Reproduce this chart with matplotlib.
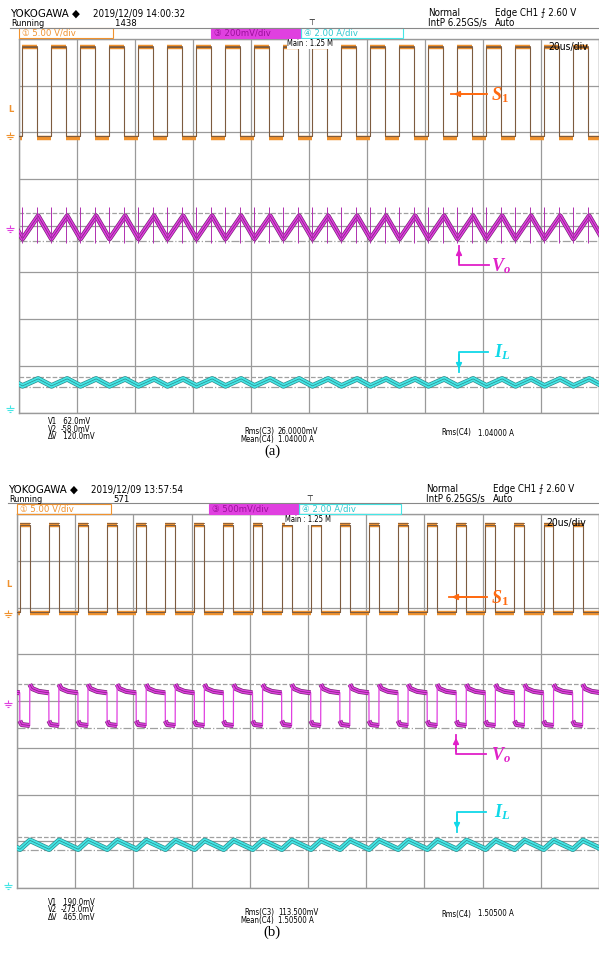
import numpy as np
import matplotlib.pyplot as plt
from matplotlib.patches import Rectangle, FancyArrowPatch
from matplotlib.path import Path

plt.rcParams['mathtext.fontset'] = 'custom'
plt.rcParams['mathtext.it'] = 'Liberation Serif:bold:italic'
plt.rcParams['mathtext.rm'] = 'Liberation Serif:bold'

W, H = 599, 959
SCOPE_FONT = ['Liberation Sans Narrow', 'DejaVu Sans']

# ---- scope settings / values ----
PERIOD_US = 10.0
N_CYCLES = 20
TIME_SPAN_US = 200
N_XDIV, N_YDIV = 10, 8

# panel (a)
a_header = dict(date='2019/12/09 14:00:32', count='1438', ch3='③ 200mV/div')
a_s1_edges = [0.93, 6.30]           # rise, fall within a period (us)
a_s1_levels = [3.82, 1.92]          # high, low (div)
a_vo_vertex_t = [1.20, 6.60]        # trough, peak (us)
a_vo_vertex_v = [-0.28, 0.21]       # trough, peak (div)
a_vo_spike = [-0.37, 0.41]          # spike extent at switching edges (div)
a_il_vertex_t = [1.20, 6.60]
a_il_vertex_v = [-3.43, -3.28]
a_vo_ground = -0.03
a_vo_scale_mv = 200
a_cursor_mv = [62.0, -58.0]
a_il_cursors = [-3.24, -3.45]
a_grounds = [1.92, -0.06, -3.93]    # CH1, CH3, CH4 ground markers
a_trig = 2.48
a_meas_v = ['62.0mV', '-58.0mV', '120.0mV']
a_meas_rms3 = '26.0000mV'
a_meas_mean4 = '1.04000 A'
a_meas_rms4 = '1.04000 A'

# panel (b)
b_header = dict(date='2019/12/09 13:57:54', count='571', ch3='③ 500mV/div')
b_s1_edges = [0.93, 4.36]
b_s1_levels = [3.77, 1.92]
b_vo_shape_t = [0.93, 0.97, 1.60, 4.36, 4.40, 5.20, 7.50, 10.90]
b_vo_shape_v = [0.18, -0.42, -0.50, -0.52, 0.36, 0.27, 0.21, 0.18]
b_il_vertex_t = [1.03, 4.47]
b_il_vertex_v = [-3.17, -2.98]
b_vo_ground = -0.02
b_vo_scale_mv = 500
b_cursor_mv = [190.0, -275.0]
b_il_cursors = [-2.90, -3.18]
b_grounds = [1.87, -0.07, -3.95]
b_trig = 2.49
b_meas_v = ['190.0mV', '-275.0mV', '465.0mV']
b_meas_rms3 = '113.500mV'
b_meas_mean4 = '1.50500 A'
b_meas_rms4 = '1.50500 A'

ORANGE = '#F0922E'
ORANGE_DK = '#7d5b3f'
MAGENTA = '#E040E0'
MAGENTA_DK = '#7a2478'
CYAN = '#45E6E6'
CYAN_DK = '#2a8a8a'
GRID = '#9a9a9a'

# earth symbol used as a marker (no installed font has U+23DA)
GROUND_MARK = Path([(0, 1.0), (0, 0.2), (-1, 0.2), (1, 0.2), (-0.65, -0.3), (0.65, -0.3), (-0.3, -0.8), (0.3, -0.8)],
                   [Path.MOVETO, Path.LINETO, Path.MOVETO, Path.LINETO, Path.MOVETO, Path.LINETO, Path.MOVETO,
                    Path.LINETO])


def fx(x):
    return x / W


def fy(y):
    return 1 - y / H


def tile(shape_t, shape_v):
    t = np.concatenate([np.asarray(shape_t) + k * PERIOD_US for k in range(-1, N_CYCLES + 1)])
    v = np.tile(shape_v, N_CYCLES + 2)
    return t, v


def square(edges, levels):
    rise, fall = edges
    hi, lo = levels
    return tile([0, rise, rise, fall, fall, PERIOD_US], [lo, lo, hi, hi, lo, lo])


def draw_square(ax, edges, levels):
    t, v = square(edges, levels)
    ax.plot(t, v, color=ORANGE_DK, lw=0.8, zorder=3)
    rise, fall = edges
    hi, lo = levels
    for k in range(-1, N_CYCLES + 1):
        base = k * PERIOD_US
        ax.plot([base + rise, base + fall], [hi, hi], color=ORANGE, lw=3.2, zorder=2, solid_capstyle='butt')
        ax.plot([base + rise, base + fall], [hi + 0.04, hi + 0.04], color=ORANGE_DK, lw=0.6, zorder=3)
        ax.plot([base + fall, base + PERIOD_US + rise], [lo - 0.03, lo - 0.03], color=ORANGE, lw=3.2, zorder=2,
                solid_capstyle='butt')
        ax.plot([base + fall, base + PERIOD_US + rise], [lo, lo], color=ORANGE_DK, lw=0.6, zorder=3)


def draw_band(ax, t, v, col, dark, width):
    ax.plot(t, v, color=dark, lw=width + 1.0, zorder=4)
    ax.plot(t, v, color=col, lw=width, zorder=5)
    ax.plot(t, v, color=dark, lw=0.5, zorder=6)


def scope_axes(rect):
    ax = plt.gcf().add_axes(rect)
    ax.set_xlim(0, TIME_SPAN_US)
    ax.set_ylim(-N_YDIV / 2, N_YDIV / 2)
    ax.set_xticks(np.linspace(0, TIME_SPAN_US, N_XDIV + 1))
    ax.set_yticks(np.arange(-N_YDIV // 2, N_YDIV // 2 + 1))
    ax.grid(True, color=GRID, lw=0.9)
    ax.tick_params(length=0, labelbottom=False, labelleft=False)
    for s in ax.spines.values():
        s.set_color(GRID)
        s.set_linewidth(1.0)
    ax.set_axisbelow(True)
    return ax


def header(fig, dy, dx, hd):
    t = lambda x, y, s, **kw: fig.text(fx(x + dx), fy(y + dy), s, family=SCOPE_FONT, va='center',
                                       fontstretch='condensed', **kw)
    t(10, 14, 'YOKOGAWA ◆', fontsize=8.2)
    t(93, 14, hd['date'], fontsize=7)
    t(11, 23, 'Running', fontsize=6.5)
    t(115, 23, hd['count'], fontsize=6.8)
    t(308, 22, '⊤', fontsize=6)
    t(428, 13, 'Normal', fontsize=7)
    t(428, 23, 'IntP 6.25GS/s', fontsize=7)
    t(495, 13, 'Edge CH1 ⨍ 2.60 V', fontsize=7)
    t(495, 23, 'Auto', fontsize=7)
    fig.add_artist(plt.Line2D([fx(10 + dx), fx(599)], [fy(27.5 + dy)] * 2, color='#888888', lw=0.8))
    boxes = [(19, 113, 'none', ORANGE, '① 5.00 V/div', ORANGE),
             (211, 301, MAGENTA, MAGENTA, hd['ch3'], '#9a109a'),
             (301, 403, 'none', CYAN, '④ 2.00 A/div', '#30C8D0')]
    for x0, x1, fc, ec, label, tc in boxes:
        fig.add_artist(Rectangle((fx(x0 + dx), fy(37.5 + dy)), fx(x1 - x0), 9.5 / H,
                                 transform=fig.transFigure, facecolor=fc, edgecolor=ec, lw=0.8))
        t(x0 + 3, 33, label, fontsize=6.8, color=tc)
    t(287, 44, 'Main : 1.25 M', fontsize=5.5, bbox=dict(facecolor='white', edgecolor='none', pad=0.3))
    t(548, 47, '20us/div', fontsize=7.5)


def grounds(ax, g, trig):
    for lvl, col in zip(g, [ORANGE, MAGENTA, CYAN]):
        ax.plot([-3.2], [lvl], marker=GROUND_MARK, markersize=6, color=col, mew=0.8, clip_on=False, ls='none')
    ax.text(-2.0, trig, 'L', color=ORANGE, fontsize=6, ha='right', va='center', clip_on=False,
            fontweight='bold')


def footer(fig, dy, meas_v, rms3, mean4, rms4, tag):
    f = lambda x, y, s, **kw: fig.text(fx(x), fy(y + dy), s, family=SCOPE_FONT, va='center',
                                       fontstretch='condensed', fontsize=5.6, linespacing=0.85, **kw)
    f(48, 429, 'V1\nV2\nΔV')
    f(61, 429, '\n'.join(' ' + s if not s.startswith('-') else s for s in meas_v))
    f(274, 435.5, 'Rms(C3)\nMean(C4)', ha='right')
    f(278, 435.5, rms3 + '\n' + mean4)
    f(441, 433, 'Rms(C4)')
    f(478, 433, rms4)
    fig.text(fx(272), fy(451 + dy), tag, family='Liberation Serif', fontsize=10.5, ha='center', va='center')


def arrow_label(fig, pts, color, label, lx, ly):
    xs = [fx(p[0]) for p in pts]
    ys = [fy(p[1]) for p in pts]
    fig.add_artist(plt.Line2D(xs, ys, color=color, lw=1.3))
    fig.add_artist(FancyArrowPatch((xs[-2], ys[-2]), (xs[-1], ys[-1]), transform=fig.transFigure,
                                   arrowstyle='-|>', mutation_scale=8, color=color, lw=1.3))
    fig.text(fx(lx), fy(ly), label, color=color, fontsize=13, va='center')


fig = plt.figure(figsize=(W / 100, H / 100), dpi=100)

# ---------------- panel (a) ----------------
ax = scope_axes([fx(19), fy(412.5), 580 / W, 373.5 / H])
draw_square(ax, a_s1_edges, a_s1_levels)
t, v = tile(a_vo_vertex_t, a_vo_vertex_v)
draw_band(ax, t, v, MAGENTA, MAGENTA_DK, 2.6)
edge_t = np.concatenate([np.asarray(a_s1_edges) + k * PERIOD_US for k in range(N_CYCLES)])
ax.vlines(edge_t, a_vo_spike[0], a_vo_spike[1], color='#B030B0', lw=0.7, zorder=6)
t, v = tile(a_il_vertex_t, a_il_vertex_v)
draw_band(ax, t, v, CYAN, CYAN_DK, 3.0)
for mv, ls in zip(a_cursor_mv, ['--', '-.']):
    ax.axhline(a_vo_ground + mv / a_vo_scale_mv, color='#a0a0a0', lw=0.9, ls=ls, zorder=1)
for c, ls in zip(a_il_cursors, ['--', '-.']):
    ax.axhline(c, color='#a0a0a0', lw=0.9, ls=ls, zorder=1)
grounds(ax, a_grounds, a_trig)
header(fig, 0, 0, a_header)
footer(fig, 0, a_meas_v, a_meas_rms3, a_meas_mean4, a_meas_rms4, '(a)')
arrow_label(fig, [(487, 94), (451, 94)], '#FF6A10', r'$S_1$', 491, 95)
arrow_label(fig, [(489, 265), (459, 265), (459, 246)], '#E020C8', r'$V_o$', 491, 266)
arrow_label(fig, [(488, 352), (459, 352), (459, 372)], '#10D8E8', r'$I_L$', 494, 352)

# ---------------- panel (b) ----------------
ax = scope_axes([fx(17), fy(888), 582 / W, 373.6 / H])
draw_square(ax, b_s1_edges, b_s1_levels)
t, v = tile(b_vo_shape_t, b_vo_shape_v)
ax.plot(t, v, color=MAGENTA, lw=0.9, zorder=5)
for k in range(-1, N_CYCLES + 1):
    base = k * PERIOD_US
    for sl in (slice(1, 4), slice(4, 8)):
        tt = base + np.asarray(b_vo_shape_t[sl])
        vv = np.asarray(b_vo_shape_v[sl])
        ax.plot(tt, vv, color=MAGENTA_DK, lw=3.6, zorder=4, solid_capstyle='butt')
        ax.plot(tt, vv, color=MAGENTA, lw=2.6, zorder=5, solid_capstyle='butt')
        ax.plot(tt, vv, color=MAGENTA_DK, lw=0.5, zorder=6)
t, v = tile(b_il_vertex_t, b_il_vertex_v)
draw_band(ax, t, v, CYAN, CYAN_DK, 3.0)
for mv, ls in zip(b_cursor_mv, ['--', '-.']):
    ax.axhline(b_vo_ground + mv / b_vo_scale_mv, color='#a0a0a0', lw=0.9, ls=ls, zorder=1)
for c, ls in zip(b_il_cursors, ['--', '-.']):
    ax.axhline(c, color='#a0a0a0', lw=0.9, ls=ls, zorder=1)
grounds(ax, b_grounds, b_trig)
header(fig, 476, -2, b_header)
footer(fig, 481, b_meas_v, b_meas_rms3, b_meas_mean4, b_meas_rms4, '(b)')
arrow_label(fig, [(487, 597), (449, 597)], '#FF6A10', r'$S_1$', 491, 598)
arrow_label(fig, [(486, 754), (456, 754), (456, 735)], '#E020C8', r'$V_o$', 491, 755)
arrow_label(fig, [(486, 812), (457, 812), (457, 832)], '#10D8E8', r'$I_L$', 494, 812)

fig.savefig('out.png', dpi=100)
